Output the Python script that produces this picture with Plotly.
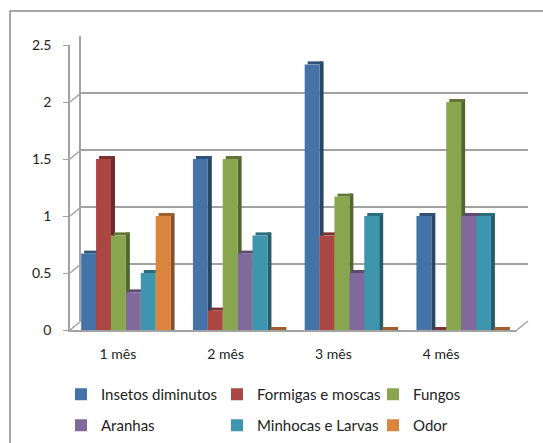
import plotly.graph_objects as go

W, H = 543, 443

months = ["1 mês", "2 mês", "3 mês", "4 mês"]
insetos = [0.67, 1.5, 2.33, 1.0]
formigas = [1.5, 0.17, 0.83, 0.0]
fungos = [0.83, 1.5, 1.17, 2.0]
aranhas = [0.33, 0.67, 0.5, 1.0]
minhocas = [0.5, 0.83, 1.0, 1.0]
odor = [1.0, 0.0, 0.0, 0.0]

series_names = ["Insetos diminutos", "Formigas e moscas", "Fungos",
                "Aranhas", "Minhocas e Larvas", "Odor"]
series_values = [insetos, formigas, fungos, aranhas, minhocas, odor]
series_colors = ["#4572A7", "#AA4643", "#89A54E", "#80699B", "#3D96AE", "#DB843D"]
series_legend = ["legend", "legend", "legend", "legend2", "legend2", "legend2"]

y_ticks = [0, 0.5, 1, 1.5, 2, 2.5]
y_ticktext = ["0", "0.5", "1", "1.5", "2", "2.5"]

FONT = "Lato"
GRID = "#a2a2a2"

# geometry (pixels)
FX0, FX1 = 70, 517      # front plot x
FY0, FY1 = 45, 330      # front plot y (top, bottom)
DX, DY = 11, 9          # back-wall offset
PX_PER_CAT = (FX1 - FX0) / 4
PX_PER_UNIT = (FY1 - FY0) / 2.5
BAR_DEPTH_X = 4 / PX_PER_CAT
BAR_DEPTH_Y = 3 / PX_PER_UNIT


def px_x(a, b):
    return [a / W, b / W]


def px_y(top, bottom):
    return [(H - bottom) / H, (H - top) / H]


def shade(hexcol, f):
    h = hexcol.lstrip("#")
    r, g, b = (int(h[i:i + 2], 16) for i in (0, 2, 4))
    return "rgb(%d,%d,%d)" % (r * f, g * f, b * f)


fig = go.Figure()

fig.add_trace(go.Scatter(x=months, y=[None] * 4, xaxis="x", yaxis="y",
                         showlegend=False, hoverinfo="skip", mode="markers",
                         marker=dict(opacity=0)))
fig.add_trace(go.Scatter(x=months, y=[None] * 4, xaxis="x3", yaxis="y2",
                         showlegend=False, hoverinfo="skip", mode="markers",
                         marker=dict(opacity=0)))

n = len(series_names)
gw = 0.8
bw = gw / n
for i in range(n):
    name, vals, col, lg = series_names[i], series_values[i], series_colors[i], series_legend[i]
    left = -gw / 2 + i * bw
    # side face
    fig.add_trace(go.Bar(x=months, y=[v + BAR_DEPTH_Y for v in vals], base=0,
                         offset=left + bw, width=BAR_DEPTH_X,
                         marker=dict(color=shade(col, 0.62), line=dict(width=0)),
                         xaxis="x2", yaxis="y2", showlegend=False, hoverinfo="skip"))
    # top face
    fig.add_trace(go.Bar(x=months, y=[BAR_DEPTH_Y] * 4, base=vals,
                         offset=left + BAR_DEPTH_X * 0.75, width=bw,
                         marker=dict(color=shade(col, 0.72), line=dict(width=0)),
                         xaxis="x2", yaxis="y2", showlegend=False, hoverinfo="skip"))
    # front face
    fig.add_trace(go.Bar(x=months, y=vals, name=name, base=0, offset=left, width=bw,
                         marker=dict(color=col, line=dict(width=0)),
                         xaxis="x2", yaxis="y2", legend=lg))

leg_common = dict(orientation="h", xref="container", yref="container",
                  xanchor="left", yanchor="top", entrywidth=111, entrywidthmode="pixels",
                  font=dict(size=15), bgcolor="rgba(0,0,0,0)", itemclick=False,
                  itemwidth=30, tracegroupgap=0)

# diagonal connectors of the 3D back wall
wall_shapes = []
for v in y_ticks:
    wall_shapes.append(dict(type="line", xref="paper", yref="y2",
                            x0=FX0 / W, x1=(FX0 + DX) / W, y0=v, y1=v + DY / PX_PER_UNIT,
                            line=dict(color=GRID, width=1.5)))
wall_shapes.append(dict(type="line", xref="paper", yref="y2",
                        x0=FX1 / W, x1=(FX1 + DX) / W, y0=0, y1=DY / PX_PER_UNIT,
                        line=dict(color=GRID, width=1.5)))
border = dict(type="rect", xref="paper", yref="paper",
              x0=10 / W, x1=1.05, y0=-0.05, y1=1 - 11 / H,
              line=dict(color="#8a8a8a", width=1.5), fillcolor="rgba(0,0,0,0)", layer="below")

fig.update_layout(
    width=W, height=H,
    margin=dict(l=0, r=0, t=0, b=0, autoexpand=False),
    paper_bgcolor="white", plot_bgcolor="rgba(0,0,0,0)",
    font=dict(family=FONT, size=13, color="#222"),
    barmode="overlay",
    xaxis=dict(domain=px_x(FX0 + DX, FX1 + DX), anchor="y", showgrid=False, showticklabels=False,
               ticks="", showline=False, zeroline=False, type="category",
               categoryarray=months, range=[-0.5, 3.5]),
    yaxis=dict(domain=px_y(FY0 - DY, FY1 - DY), anchor="x", range=[0, 2.5], tickvals=y_ticks,
               showticklabels=False, ticks="", showgrid=True, gridcolor=GRID, gridwidth=2,
               showline=True, linecolor=GRID, linewidth=1.5, zeroline=False),
    xaxis2=dict(domain=px_x(FX0, FX1), anchor="y2", showgrid=False, showticklabels=False,
                ticks="", showline=True, linecolor=GRID, linewidth=2, zeroline=False,
                type="category", categoryarray=months, range=[-0.5, 3.5]),
    yaxis2=dict(domain=px_y(FY0, FY1), anchor="x2", range=[0, 2.5], tickvals=y_ticks,
                ticktext=y_ticktext, ticks="outside", ticklen=5, tickcolor=GRID,
                showgrid=False, showline=True, linecolor=GRID, linewidth=1.5,
                zeroline=False, ticklabelstandoff=9, tickfont=dict(size=14)),
    xaxis3=dict(domain=px_x(64, 495), anchor="y2", showgrid=False, showline=False,
                ticks="", zeroline=False, type="category", categoryarray=months,
                range=[-0.5, 3.5], ticklabelstandoff=14, tickfont=dict(size=14)),
    legend=dict(leg_common, x=61 / W, y=1 - 378 / H),
    legend2=dict(leg_common, x=61 / W, y=1 - 409 / H),
    shapes=[border] + wall_shapes,
)

fig.write_html("out.html")
